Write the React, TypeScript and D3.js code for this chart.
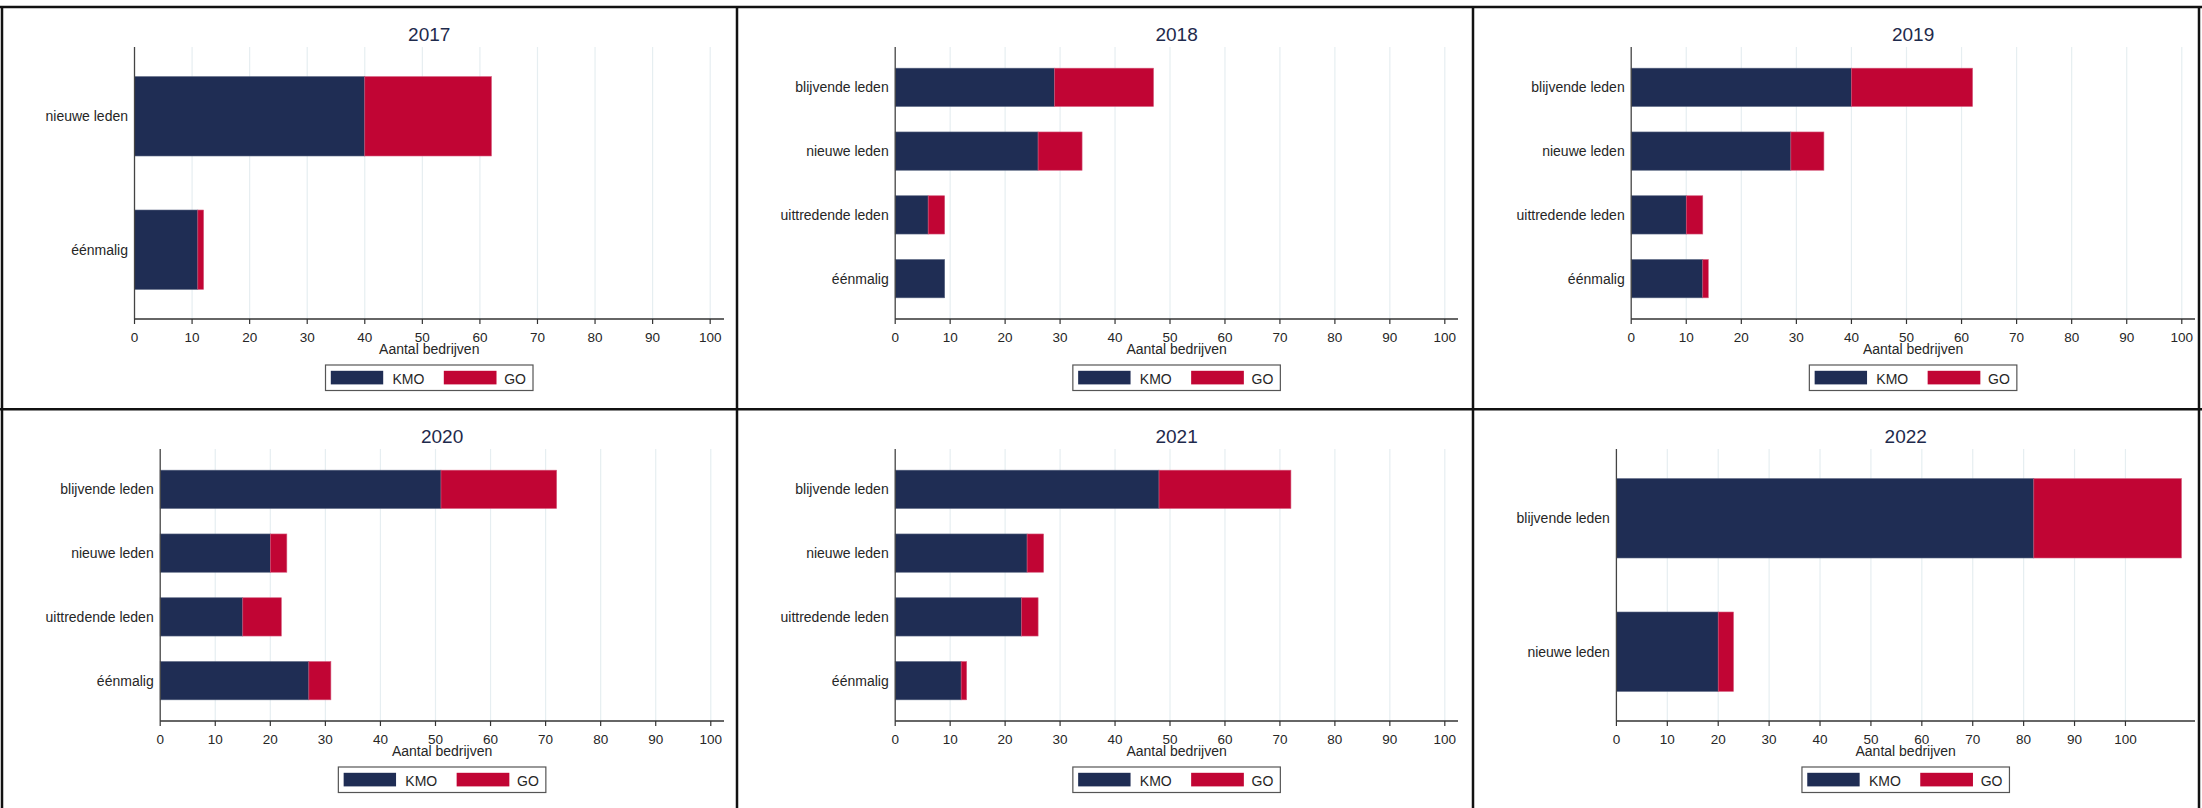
import React from "react";
import * as d3 from "d3";

const years = ["2017", "2018", "2019", "2020", "2021", "2022"];
const seriesNames = ["KMO", "GO"];

const cats2017 = ["nieuwe leden", "éénmalig"];
const kmo2017 = [40, 11];
const go2017 = [22, 1];

const cats2018 = ["blijvende leden", "nieuwe leden", "uittredende leden", "éénmalig"];
const kmo2018 = [29, 26, 6, 9];
const go2018 = [18, 8, 3, 0];

const cats2019 = ["blijvende leden", "nieuwe leden", "uittredende leden", "éénmalig"];
const kmo2019 = [40, 29, 10, 13];
const go2019 = [22, 6, 3, 1];

const cats2020 = ["blijvende leden", "nieuwe leden", "uittredende leden", "éénmalig"];
const kmo2020 = [51, 20, 15, 27];
const go2020 = [21, 3, 7, 4];

const cats2021 = ["blijvende leden", "nieuwe leden", "uittredende leden", "éénmalig"];
const kmo2021 = [48, 24, 23, 12];
const go2021 = [24, 3, 3, 1];

const cats2022 = ["blijvende leden", "nieuwe leden"];
const kmo2022 = [82, 20];
const go2022 = [29, 3];

const xTicks = [0, 10, 20, 30, 40, 50, 60, 70, 80, 90, 100];
const xTitle = "Aantal bedrijven";

const panelsData = [
  { year: years[0], cats: cats2017, kmo: kmo2017, go: go2017 },
  { year: years[1], cats: cats2018, kmo: kmo2018, go: go2018 },
  { year: years[2], cats: cats2019, kmo: kmo2019, go: go2019 },
  { year: years[3], cats: cats2020, kmo: kmo2020, go: go2020 },
  { year: years[4], cats: cats2021, kmo: kmo2021, go: go2021 },
  { year: years[5], cats: cats2022, kmo: kmo2022, go: go2022 },
];

const W = 2202;
const H = 808;
const FONT = "'Liberation Sans', Arial, Helvetica, sans-serif";
const NAVY = "#1f2d54";
const RED = "#c10534";
const colors = [NAVY, RED];
const cols = [
  { x0: 2, x1: 737, plotRight: 724 },
  { x0: 737, x1: 1473, plotRight: 1458 },
  { x0: 1473, x1: 2199, plotRight: 2195 },
];
const rowTops = [7, 409];

let ctx: CanvasRenderingContext2D | null = null;
function textWidth(s: string, size: number) {
  if (!ctx) {
    const c = document.createElement("canvas");
    ctx = c.getContext("2d");
  }
  if (!ctx) return s.length * size * 0.5;
  ctx.font = `${size}px 'Liberation Sans', Arial`;
  return ctx.measureText(s).width;
}

function Panel({ p, idx }: { p: (typeof panelsData)[number]; idx: number }) {
  const col = cols[idx % 3];
  const top = rowTops[Math.floor(idx / 3)];
  const maxLabel = d3.max(p.cats, (c) => textWidth(c, 14)) || 0;
  const left = col.x0 + 43.5 + maxLabel + 6.5;
  const right = col.plotRight;
  const plotTop = top + 40;
  const axisY = top + 312;
  const totals = p.kmo.map((v, i) => v + p.go[i]);
  const xMax = Math.max(100, d3.max(totals) || 0) * 1.024;
  const x = d3.scaleLinear().domain([0, xMax]).range([left, right]);
  const n = p.cats.length;
  const y = d3
    .scaleBand<string>()
    .domain(p.cats)
    .range([plotTop, axisY])
    .paddingInner(n === 2 ? 0.405 : 0.4)
    .paddingOuter(n === 2 ? 0.222 : 0.332);
  const stacked = d3
    .stack<number>()
    .keys(["0", "1"])
    .value((i, k) => (k === "0" ? p.kmo[i] : p.go[i]))(d3.range(n));
  const cx = (left + right) / 2;
  const legW = 207.5;
  const legX = cx - legW / 2;
  const legY = top + 358;

  return (
    <g>
      <text x={cx} y={top + 33.5} textAnchor="middle" fontSize={19} fill="#1e2a4c" fontFamily={FONT}>
        {p.year}
      </text>
      {xTicks
        .filter((t) => t > 0)
        .map((t) => (
          <line key={"g" + t} x1={x(t)} x2={x(t)} y1={plotTop} y2={axisY} stroke="#e6eef1" strokeWidth={1.2} />
        ))}
      {stacked.map((s, si) =>
        s.map((d, i) =>
          d[1] - d[0] > 0 ? (
            <rect
              key={si + "-" + i}
              x={x(d[0])}
              y={y(p.cats[i])}
              width={x(d[1]) - x(d[0])}
              height={y.bandwidth()}
              fill={colors[si]}
              stroke={si === 0 ? "#56627f" : "#d4577a"}
              strokeWidth={0.6}
            />
          ) : null
        )
      )}
      <line x1={left} x2={left} y1={plotTop} y2={axisY} stroke="#444" strokeWidth={1.3} />
      <line x1={left} x2={right} y1={axisY} y2={axisY} stroke="#333" strokeWidth={1.3} />
      {xTicks.map((t) => (
        <g key={"t" + t}>
          <line x1={x(t)} x2={x(t)} y1={axisY} y2={axisY + 5} stroke="#333" strokeWidth={1.2} />
          <text x={x(t)} y={top + 334.5} textAnchor="middle" fontSize={13.5} fill="#262626" fontFamily={FONT}>
            {t}
          </text>
        </g>
      ))}
      {p.cats.map((c) => (
        <text
          key={"c" + c}
          x={left - 6.5}
          y={(y(c) || 0) + y.bandwidth() / 2}
          dy="0.35em"
          textAnchor="end"
          fontSize={14}
          fill="#262626"
          fontFamily={FONT}
        >
          {c}
        </text>
      ))}
      <text x={cx} y={top + 347} textAnchor="middle" fontSize={14} fill="#262626" fontFamily={FONT}>
        {xTitle}
      </text>
      <rect x={legX} y={legY} width={legW} height={25.5} fill="white" stroke="#555" strokeWidth={1.2} />
      <rect x={legX + 5.3} y={legY + 5.8} width={52.4} height={13.6} fill={NAVY} />
      <text x={legX + 67} y={legY + 18.6} fontSize={14} fill="#262626" fontFamily={FONT}>
        {seriesNames[0]}
      </text>
      <rect x={legX + 118.3} y={legY + 5.8} width={52.7} height={13.6} fill={RED} />
      <text x={legX + 178.7} y={legY + 18.6} fontSize={14} fill="#262626" fontFamily={FONT}>
        {seriesNames[1]}
      </text>
    </g>
  );
}

export default function App() {
  return (
    <svg
      width={W}
      height={H}
      style={{ position: "absolute", left: 0, top: 0, background: "white" }}
    >
      <rect x={0} y={0} width={W} height={H} fill="white" />
      {panelsData.map((p, i) => (
        <Panel key={p.year} p={p} idx={i} />
      ))}
      <g stroke="#111" strokeWidth={2.5}>
        <line x1={0} x2={2202} y1={7} y2={7} />
        <line x1={0} x2={2202} y1={409.3} y2={409.3} />
        <line x1={2} x2={2} y1={7} y2={808} />
        <line x1={737} x2={737} y1={7} y2={808} />
        <line x1={1473} x2={1473} y1={7} y2={808} />
        <line x1={2199} x2={2199} y1={7} y2={808} />
      </g>
    </svg>
  );
}
